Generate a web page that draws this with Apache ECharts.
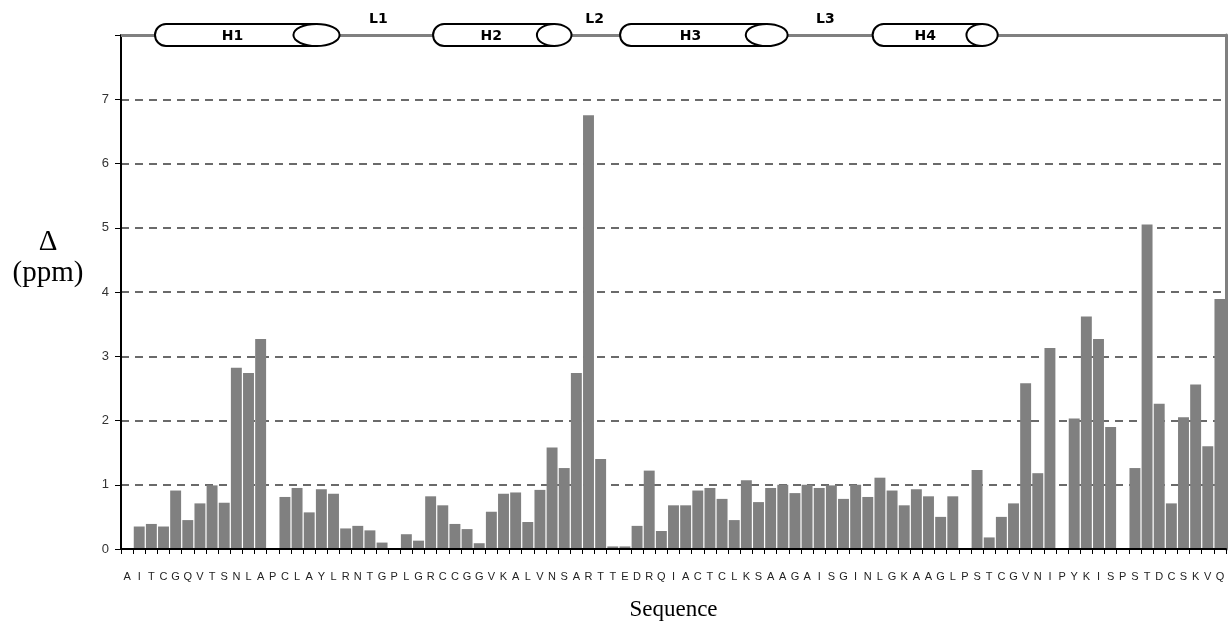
<!DOCTYPE html>
<html><head><meta charset="utf-8">
<script src="https://cdn.jsdelivr.net/npm/echarts@6/dist/echarts.min.js"></script>
<style>html,body{margin:0;padding:0;background:#fff}#c{width:1229px;height:626px}</style>
</head><body><div id="c"></div>
<script>
// Residue sequence (x categories)
const residues = "AITCGQVTSNLAPCLAYLRNTGPLGRCCGGVKALVNSARTTEDRQIACTCLKSAAGAISGINLGKAAGLPSTCGVNIPYKISPSTDCSKVQ".split('');
// Chemical shift difference per residue (ppm)
const shifts = [
  0, 0.35, 0.39, 0.35, 0.91, 0.45, 0.71, 0.99, 0.72, 2.82,
  2.74, 3.27, 0, 0.81, 0.95, 0.57, 0.93, 0.86, 0.32, 0.36,
  0.29, 0.10, 0, 0.23, 0.13, 0.82, 0.68, 0.39, 0.31, 0.09,
  0.58, 0.86, 0.88, 0.42, 0.92, 1.58, 1.26, 2.74, 6.75, 1.40,
  0.04, 0.04, 0.36, 1.22, 0.28, 0.68, 0.68, 0.91, 0.95, 0.78,
  0.45, 1.07, 0.73, 0.95, 1.00, 0.87, 1.00, 0.95, 0.99, 0.78,
  1.00, 0.81, 1.11, 0.91, 0.68, 0.93, 0.82, 0.50, 0.82, 0,
  1.23, 0.18, 0.50, 0.71, 2.58, 1.18, 3.13, 0, 2.03, 3.62,
  3.27, 1.90, 0, 1.26, 5.05, 2.26, 0.71, 2.05, 2.56, 1.60,
  3.89
];
// Secondary structure (positions along sequence axis, in residue units)
const helixNames = ['H1', 'H2', 'H3', 'H4'];
const helixStart = [2.8, 25.7, 41.1, 61.9];
const helixEnd = [18.0, 37.1, 54.9, 72.2];
const loopNames = ['L1', 'L2', 'L3'];
const loopPos = [21.2, 39.0, 58.0];
const yMax = 8;

const chart = echarts.init(document.getElementById('c'), null, {renderer: 'canvas'});

function bandInfo(api) {
  const p0 = api.coord([0, yMax]);
  const bw = api.size([1, 0])[0];
  return {left: p0[0] - bw / 2, bw: bw, y: p0[1]};
}

const option = {
  animation: false,
  backgroundColor: '#fff',
  grid: {left: 121, right: 3, top: 35, bottom: 77},
  xAxis: {
    type: 'category',
    data: residues,
    z: 5,
    name: 'Sequence',
    nameLocation: 'middle',
    nameGap: 49,
    nameTextStyle: {fontFamily: 'Liberation Serif', fontSize: 23, color: '#000'},
    axisLine: {lineStyle: {color: '#000', width: 2}},
    axisTick: {show: true, alignWithLabel: false, interval: 0, length: 5, lineStyle: {color: '#000', width: 1}},
    axisLabel: {interval: 0, margin: 22, fontSize: 11, color: '#222', fontFamily: 'Liberation Sans'},
    splitLine: {show: false}
  },
  yAxis: [{
    type: 'value',
    min: 0, max: yMax, interval: 1,
    axisLine: {show: true, lineStyle: {color: '#000', width: 2}},
    axisTick: {show: true, length: 6, lineStyle: {color: '#000', width: 1}},
    axisLabel: {
      margin: 12, fontSize: 13, color: '#333', fontFamily: 'Liberation Sans',
      formatter: v => (v === yMax ? '' : String(v))
    },
    splitLine: {show: true, lineStyle: {color: '#3a3a3a', width: 1.6, type: [8, 6]}}
  }, {
    type: 'value',
    position: 'right',
    min: 0, max: yMax, interval: 1,
    axisLine: {show: true, lineStyle: {color: '#808080', width: 3}},
    axisTick: {show: false},
    axisLabel: {show: false},
    splitLine: {show: false}
  }],
  graphic: [
    {type: 'text', x: 48, y: 242, style: {text: 'Δ', font: '29px "Liberation Serif"', fill: '#000', align: 'center', verticalAlign: 'middle'}},
    {type: 'text', x: 48, y: 273, style: {text: '(ppm)', font: '29px "Liberation Serif"', fill: '#000', align: 'center', verticalAlign: 'middle'}}
  ],
  series: [{
    type: 'bar',
    data: shifts,
    barCategoryGap: '10%',
    itemStyle: {color: '#808080'},
    z: 2,
    markLine: {
      silent: true,
      symbol: 'none',
      label: {show: false},
      lineStyle: {color: '#808080', width: 3, type: 'solid'},
      data: [{yAxis: yMax}]
    }
  }, {
    type: 'custom',
    z: 10,
    clip: false,
    data: helixNames.map((n, i) => [helixStart[i], helixEnd[i], n]),
    renderItem: function (params, api) {
      const b = bandInfo(api);
      const x1 = b.left + api.value(0) * b.bw;
      const x2 = b.left + api.value(1) * b.bw;
      const h = 22, y = b.y;
      const ew = (x2 - x1) * 0.25;
      const name = helixNames[params.dataIndex];
      return {
        type: 'group',
        children: [{
          type: 'rect',
          shape: {x: x1, y: y - h / 2, width: (x2 - x1) - ew / 2, height: h, r: [h / 2, 0, 0, h / 2]},
          style: {fill: '#fff', stroke: '#000', lineWidth: 2}
        }, {
          type: 'ellipse',
          shape: {cx: x2 - ew / 2, cy: y, rx: ew / 2, ry: h / 2},
          style: {fill: '#fff', stroke: '#000', lineWidth: 2}
        }, {
          type: 'text',
          style: {
            text: name, x: x1 + (x2 - x1) * 0.42, y: y + 1,
            align: 'center', verticalAlign: 'middle',
            font: 'bold 14px "DejaVu Sans"', fill: '#000'
          }
        }]
      };
    }
  }, {
    type: 'custom',
    z: 10,
    clip: false,
    data: loopNames.map((n, i) => [loopPos[i], n]),
    renderItem: function (params, api) {
      const b = bandInfo(api);
      const x = b.left + api.value(0) * b.bw;
      return {
        type: 'text',
        style: {
          text: loopNames[params.dataIndex], x: x, y: b.y - 16,
          align: 'center', verticalAlign: 'middle',
          font: 'bold 14px "DejaVu Sans"', fill: '#000'
        }
      };
    }
  }]
};
chart.setOption(option);
</script>
</body></html>
